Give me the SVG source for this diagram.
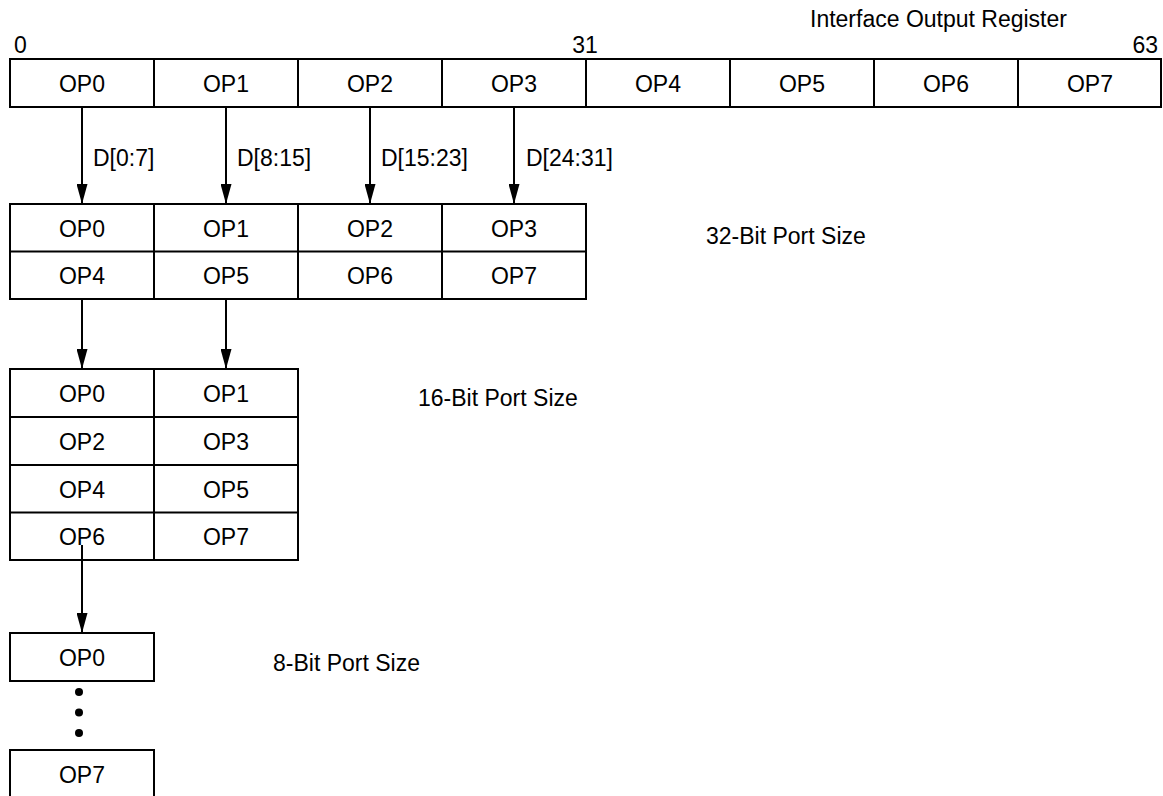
<svg xmlns="http://www.w3.org/2000/svg" width="1163" height="796" viewBox="0 0 1163 796">
<style>
text{font-family:"Liberation Sans",Arial,sans-serif;font-size:23px;fill:#000}
.c{text-anchor:middle}
.box{fill:#fff;stroke:#000;stroke-width:2}
.ln{stroke:#000;stroke-width:2;fill:none}
.conn{stroke:#000;stroke-width:2;fill:none;marker-end:url(#ah)}
</style>
<defs>
<marker id="ah" viewBox="0 0 20 11" refX="20" refY="5.5" markerWidth="20" markerHeight="11" markerUnits="userSpaceOnUse" orient="auto">
<path d="M0,0 L20,5.5 L0,11 z" fill="#000"/>
</marker>
</defs>
<rect width="1163" height="796" fill="#fff"/>
<g id="labels">
<text x="810" y="27">Interface Output Register</text>
<text x="14" y="53">0</text>
<text x="585" y="53" class="c">31</text>
<text x="1158" y="53" text-anchor="end">63</text>
<text x="706" y="244">32-Bit Port Size</text>
<text x="418" y="406">16-Bit Port Size</text>
<text x="273" y="671">8-Bit Port Size</text>
</g>
<g id="register64">
<rect class="box" x="10" y="59" width="1151" height="48"/>
<path class="ln" d="M154,59V107M298,59V107M442,59V107M586,59V107M730,59V107M874,59V107M1018,59V107"/>
<text class="c" x="82" y="92">OP0</text>
<text class="c" x="226" y="92">OP1</text>
<text class="c" x="370" y="92">OP2</text>
<text class="c" x="514" y="92">OP3</text>
<text class="c" x="658" y="92">OP4</text>
<text class="c" x="802" y="92">OP5</text>
<text class="c" x="946" y="92">OP6</text>
<text class="c" x="1090" y="92">OP7</text>
</g>
<g id="port32">
<rect class="box" x="10" y="204" width="576" height="95"/>
<path class="ln" d="M10,251.5H586M154,204V299M298,204V299M442,204V299"/>
<text class="c" x="82" y="237">OP0</text>
<text class="c" x="226" y="237">OP1</text>
<text class="c" x="370" y="237">OP2</text>
<text class="c" x="514" y="237">OP3</text>
<text class="c" x="82" y="284">OP4</text>
<text class="c" x="226" y="284">OP5</text>
<text class="c" x="370" y="284">OP6</text>
<text class="c" x="514" y="284">OP7</text>
</g>
<g id="port16">
<rect class="box" x="10" y="369" width="288" height="191"/>
<path class="ln" d="M10,417H298M10,465H298M10,512.5H298M154,369V560"/>
<text class="c" x="82" y="402">OP0</text>
<text class="c" x="226" y="402">OP1</text>
<text class="c" x="82" y="450">OP2</text>
<text class="c" x="226" y="450">OP3</text>
<text class="c" x="82" y="498">OP4</text>
<text class="c" x="226" y="498">OP5</text>
<text class="c" x="82" y="545">OP6</text>
<text class="c" x="226" y="545">OP7</text>
</g>
<g id="port8">
<rect class="box" x="10" y="633" width="144" height="48"/>
<text class="c" x="82" y="666">OP0</text>
<circle cx="79" cy="692" r="4"/>
<circle cx="79" cy="712.5" r="4"/>
<circle cx="79" cy="733" r="4"/>
<rect class="box" x="10" y="750" width="144" height="50"/>
<text class="c" x="82" y="783">OP7</text>
</g>
<g id="connectors">
<path class="conn" d="M82,107V204"/>
<path class="conn" d="M226,107V204"/>
<path class="conn" d="M370,107V204"/>
<path class="conn" d="M514,107V204"/>
<path class="conn" d="M82,299V369"/>
<path class="conn" d="M226,299V369"/>
<path class="conn" d="M82,545V633"/>
<text x="93" y="166">D[0:7]</text>
<text x="237" y="166">D[8:15]</text>
<text x="381" y="166">D[15:23]</text>
<text x="526" y="166">D[24:31]</text>
</g>
</svg>
